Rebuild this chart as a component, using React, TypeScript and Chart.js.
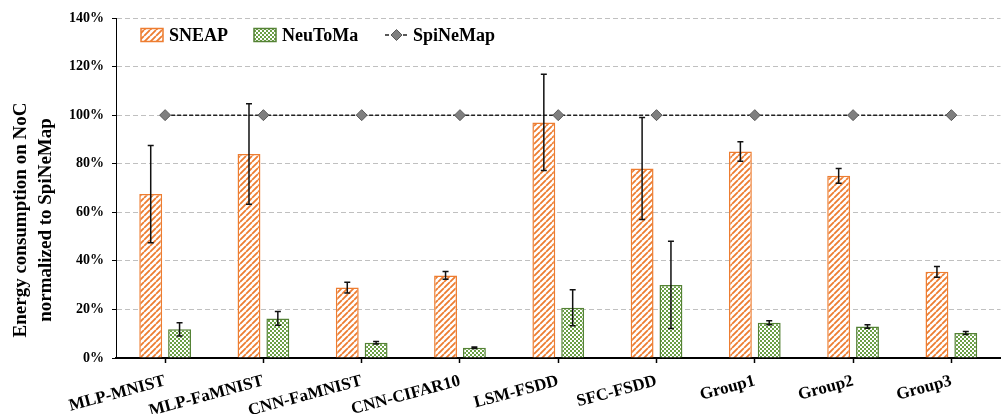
import React, { useEffect, useRef } from 'react';
import { Chart, registerables } from 'chart.js';

Chart.register(...registerables);

const categories = ['MLP-MNIST', 'MLP-FaMNIST', 'CNN-FaMNIST', 'CNN-CIFAR10', 'LSM-FSDD', 'SFC-FSDD', 'Group1', 'Group2', 'Group3'];
const sneapValues = [67.5, 84, 29, 34, 97, 78, 85, 75, 35.5];
const sneapErrors = [20, 20.7, 2.2, 1.6, 19.8, 21, 4, 3, 2.2];
const neutomaValues = [11.8, 16.3, 6.3, 4.2, 20.7, 30.1, 14.5, 13, 10.3];
const neutomaErrors = [2.7, 2.8, 0.5, 0.3, 7.4, 18, 0.8, 0.7, 0.6];
const spinemapValues = [100, 100, 100, 100, 100, 100, 100, 100, 100];
const seriesNames = ['SNEAP', 'NeuToMa', 'SpiNeMap'];
const yTitle = ['Energy consumption on NoC', 'normalized to SpiNeMap'];

const ORANGE = '#ED7D31';
const GREEN_DARK = '#548235';
const GREEN = '#6a9f45';
const FONT = "'Liberation Serif', 'Times New Roman', serif";

function makeStripePattern(): CanvasPattern | string {
  const c = document.createElement('canvas');
  const s = 6;
  c.width = s;
  c.height = s;
  const ctx = c.getContext('2d');
  if (!ctx) return '#fff';
  ctx.fillStyle = '#ffffff';
  ctx.fillRect(0, 0, s, s);
  ctx.strokeStyle = ORANGE;
  ctx.lineWidth = 1.8;
  ctx.beginPath();
  for (let k = -1; k <= 1; k++) {
    ctx.moveTo(k * s, s);
    ctx.lineTo(k * s + s, 0);
  }
  ctx.stroke();
  return ctx.createPattern(c, 'repeat') as CanvasPattern;
}

function makeCheckerPattern(): CanvasPattern | string {
  const c = document.createElement('canvas');
  c.width = 4;
  c.height = 4;
  const ctx = c.getContext('2d');
  if (!ctx) return GREEN;
  ctx.fillStyle = '#ffffff';
  ctx.fillRect(0, 0, 4, 4);
  ctx.fillStyle = GREEN;
  ctx.fillRect(0, 0, 2, 2);
  ctx.fillRect(2, 2, 2, 2);
  return ctx.createPattern(c, 'repeat') as CanvasPattern;
}

const errorBarPlugin = {
  id: 'errorBars',
  afterDatasetsDraw(chart: any) {
    const ctx = chart.ctx;
    const yScale = chart.scales.y;
    const sets = [
      { idx: 0, values: sneapValues, errs: sneapErrors },
      { idx: 1, values: neutomaValues, errs: neutomaErrors },
    ];
    ctx.save();
    ctx.strokeStyle = '#111';
    ctx.lineWidth = 1.5;
    sets.forEach(({ idx, values, errs }) => {
      const meta = chart.getDatasetMeta(idx);
      meta.data.forEach((el: any, i: number) => {
        const x = el.x;
        const yTop = yScale.getPixelForValue(values[i] + errs[i]);
        const yBot = yScale.getPixelForValue(values[i] - errs[i]);
        ctx.beginPath();
        ctx.moveTo(x, yTop);
        ctx.lineTo(x, yBot);
        ctx.moveTo(x - 3, yTop);
        ctx.lineTo(x + 3, yTop);
        ctx.moveTo(x - 3, yBot);
        ctx.lineTo(x + 3, yBot);
        ctx.stroke();
      });
    });
    ctx.restore();
  },
};

const yTitlePlugin = {
  id: 'yTitle',
  afterDraw(chart: any) {
    const ctx = chart.ctx;
    const { top, bottom } = chart.chartArea;
    const cy = (top + bottom) / 2 + 32;
    ctx.save();
    ctx.font = `bold 19px ${FONT}`;
    ctx.fillStyle = '#000';
    ctx.textAlign = 'center';
    ctx.textBaseline = 'middle';
    ctx.translate(0, cy);
    ctx.rotate(-Math.PI / 2);
    ctx.fillText(yTitle[0], 0, 21);
    ctx.fillText(yTitle[1], 0, 46);
    ctx.restore();
  },
};

function makeLegendPlugin(stripe: any, checker: any) {
  return {
    id: 'customLegend',
    afterDraw(chart: any) {
      const ctx = chart.ctx;
      const left = chart.chartArea.left;
      const cy = 35;
      ctx.save();
      ctx.font = `bold 18px ${FONT}`;
      ctx.textBaseline = 'middle';
      ctx.fillStyle = '#000';
      // SNEAP
      let x = left + 25;
      ctx.fillStyle = stripe;
      ctx.fillRect(x, cy - 6.5, 22, 13);
      ctx.strokeStyle = ORANGE;
      ctx.lineWidth = 1.5;
      ctx.strokeRect(x, cy - 6.5, 22, 13);
      ctx.fillStyle = '#000';
      ctx.fillText(seriesNames[0], x + 28, cy + 1);
      // NeuToMa
      x = left + 138;
      ctx.fillStyle = checker;
      ctx.fillRect(x, cy - 6.5, 22, 13);
      ctx.strokeStyle = GREEN_DARK;
      ctx.strokeRect(x, cy - 6.5, 22, 13);
      ctx.fillStyle = '#000';
      ctx.fillText(seriesNames[1], x + 28, cy + 1);
      // SpiNeMap
      x = left + 269;
      ctx.strokeStyle = '#222';
      ctx.lineWidth = 1.5;
      ctx.setLineDash([4, 2]);
      ctx.beginPath();
      ctx.moveTo(x, cy);
      ctx.lineTo(x + 23, cy);
      ctx.stroke();
      ctx.setLineDash([]);
      const dx = x + 11.5;
      ctx.beginPath();
      ctx.moveTo(dx, cy - 5.5);
      ctx.lineTo(dx + 5.5, cy);
      ctx.lineTo(dx, cy + 5.5);
      ctx.lineTo(dx - 5.5, cy);
      ctx.closePath();
      ctx.fillStyle = '#7f7f7f';
      ctx.fill();
      ctx.strokeStyle = '#595959';
      ctx.lineWidth = 1;
      ctx.stroke();
      ctx.fillStyle = '#000';
      ctx.fillText(seriesNames[2], x + 28, cy + 1);
      ctx.restore();
    },
  };
}

export default function App() {
  const canvasRef = useRef<HTMLCanvasElement | null>(null);

  useEffect(() => {
    if (!canvasRef.current) return;
    const stripe = makeStripePattern();
    const checker = makeCheckerPattern();
    const chart = new Chart(canvasRef.current, {
      type: 'bar',
      data: {
        labels: categories,
        datasets: [
          {
            type: 'bar',
            label: seriesNames[0],
            data: sneapValues,
            backgroundColor: stripe as any,
            borderColor: ORANGE,
            borderWidth: 1.5,
            categoryPercentage: 0.587,
            barPercentage: 0.793,
            order: 2,
          },
          {
            type: 'bar',
            label: seriesNames[1],
            data: neutomaValues,
            backgroundColor: checker as any,
            borderColor: GREEN_DARK,
            borderWidth: 1.5,
            categoryPercentage: 0.587,
            barPercentage: 0.793,
            order: 2,
          },
          {
            type: 'line',
            label: seriesNames[2],
            data: spinemapValues,
            borderColor: '#222',
            borderWidth: 1.5,
            borderDash: [4, 2],
            pointStyle: 'rectRot',
            pointRadius: 5.5,
            pointBackgroundColor: '#7f7f7f',
            pointBorderColor: '#595959',
            pointBorderWidth: 1,
            fill: false,
            order: 1,
          } as any,
        ],
      },
      options: {
        animation: false,
        responsive: true,
        maintainAspectRatio: false,
        layout: { padding: { left: 0, right: 2, top: 18, bottom: 0 } },
        plugins: {
          legend: { display: false },
          tooltip: { enabled: false },
        },
        scales: {
          x: {
            afterFit: (scale: any) => {
              scale.height = 56;
            },
            grid: {
              display: true,
              drawOnChartArea: false,
              drawTicks: true,
              tickLength: 5,
              tickColor: '#000',
              tickWidth: 1.5,
              offset: false,
            },
            border: { display: true, color: '#000', width: 2 },
            ticks: {
              color: '#000',
              font: { family: FONT, size: 17, weight: 'bold' },
              minRotation: 15,
              maxRotation: 15,
              autoSkip: false,
              padding: 8,
            },
          },
          y: {
            min: 0,
            max: 140,
            afterFit: (scale: any) => {
              scale.width = 116;
            },
            grid: {
              color: '#c0c0c0',
              lineWidth: 1,
              drawTicks: true,
              tickLength: 4,
              tickColor: '#000',
              tickBorderDash: [],
            },
            border: { display: true, color: '#000', width: 1, dash: [5, 3] },
            ticks: {
              stepSize: 20,
              color: '#000',
              padding: 8,
              font: { family: FONT, size: 14, weight: 'bold' },
              callback: (v: any) => `${v}%`,
            },
            title: { display: false },
          },
        },
      },
      plugins: [errorBarPlugin, yTitlePlugin, makeLegendPlugin(stripe, checker)],
    });
    return () => chart.destroy();
  }, []);

  return (
    <div style={{ position: 'fixed', left: 0, top: 0, width: 1007, height: 414, background: '#fff' }}>
      <canvas ref={canvasRef} />
    </div>
  );
}
